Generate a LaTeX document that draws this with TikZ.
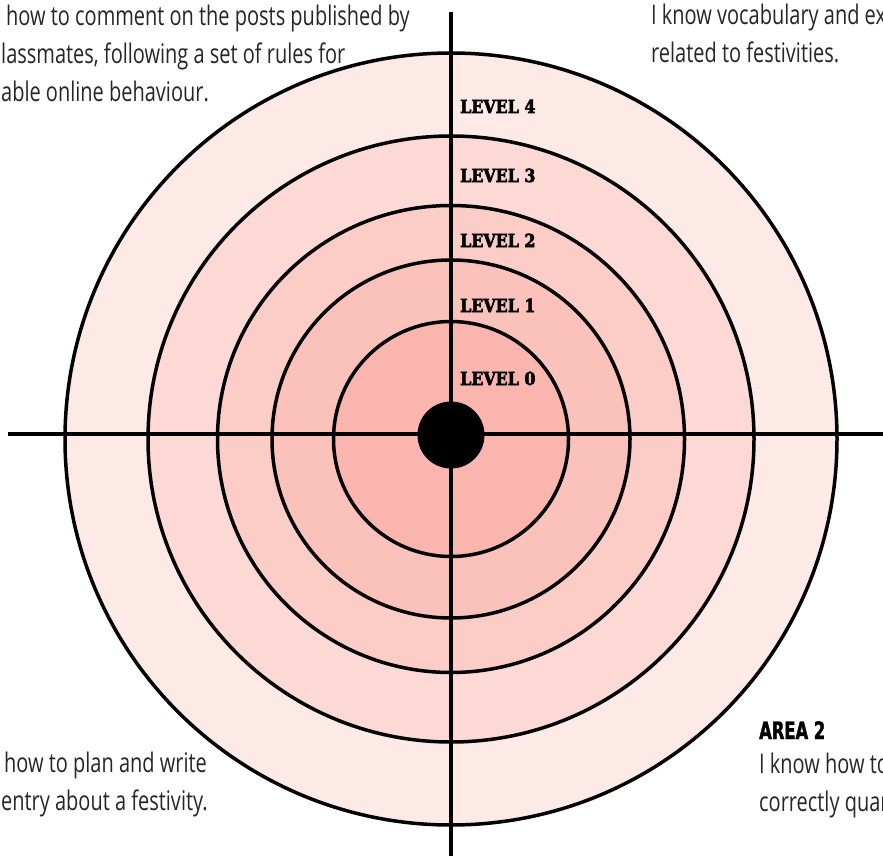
\documentclass[tikz,border=0pt]{standalone}
\usepackage{fontspec}
\usepackage{tikz}
\usetikzlibrary{positioning, calc}
\newfontfamily\bodyfont{Open Sans}[FakeStretch=0.74]
\newfontfamily\levelfont{DejaVu Serif}[FakeStretch=0.88,BoldFeatures={FakeBold=3}]
\newfontfamily\areafont{DejaVu Sans}[FakeStretch=0.68,BoldFeatures={FakeBold=1.5}]
\definecolor{ring_four}{RGB}{253,233,229}
\definecolor{ring_three}{RGB}{252,217,212}
\definecolor{ring_two}{RGB}{252,205,199}
\definecolor{ring_one}{RGB}{251,194,187}
\definecolor{ring_zero}{RGB}{250,182,174}
\tikzset{
  ring/.style={draw=black,line width=3.5pt},
  axis/.style={draw=black,line width=3.3pt},
  bullseye/.style={circle,fill=black,minimum size=67pt,inner sep=0pt},
  levellabel/.style={anchor=base west,inner sep=0pt,font=\levelfont\bfseries\fontsize{18}{18}\selectfont},
  areatext/.style={anchor=base west,inner sep=0pt,align=left,text=black!85,font=\bodyfont\fontsize{27}{38}\selectfont},
  areatitle/.style={anchor=base west,inner sep=0pt,font=\areafont\bfseries\fontsize{24}{24}\selectfont},
}

\begin{document}
\begin{tikzpicture}[x=1pt,y=-1pt]
	\useasboundingbox (0,0) rectangle (883,856);
	\coordinate (O) at (451,439);
	\coordinate (N) at (451,12);
	\coordinate (S) at (451,856);
	\coordinate (W) at (8,434);
	\coordinate (E) at (883,434);
	% target rings, outside in
	\filldraw[ring,fill=ring_four] (O) circle (386pt);
	\filldraw[ring,fill=ring_three] (O) circle (303pt);
	\filldraw[ring,fill=ring_two] (O) circle (233.5pt);
	\filldraw[ring,fill=ring_one] (O) circle (179pt);
	\filldraw[ring,fill=ring_zero] (O) circle (117.5pt);
	\draw[axis] (W) -- (E);
	\draw[axis] (N) -- (S);
	\node[bullseye] (bull) at (451,435) {};
	% level labels
	\node[levellabel] (L4) at (460,113) {LEVEL 4};
	\node[levellabel] (L3) at (460,182) {LEVEL 3};
	\node[levellabel] (L2) at (460,247) {LEVEL 2};
	\node[levellabel] (L1) at (460,312) {LEVEL 1};
	\node[levellabel] (L0) at (460,385) {LEVEL 0};
	% area texts (anchored on their last line)
	\node[areatext] (areaone) at (1,102) {\hspace{5pt}how to comment on the posts published by\\lassmates, following a set of rules for\\able online behaviour.};
	\node[areatext] (areafour) at (651,63) {I know vocabulary and ex\\related to festivities.};
	\node[areatext] (areathree) at (1,810) {\hspace{3pt}how to plan and write\\entry about a festivity.};
	\node[areatitle] (areatwotitle) at (759,739) {AREA 2};
	\node[areatext] (areatwo) at (759,811) {I know how to\\correctly quar};
\end{tikzpicture}
\end{document}
